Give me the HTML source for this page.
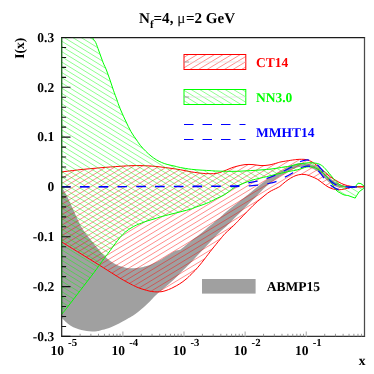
<!DOCTYPE html><html><head><meta charset="utf-8"><style>html,body{margin:0;padding:0;background:#fff}svg{display:block;will-change:transform;transform:translateZ(0)}</style></head><body><svg width="374" height="374" viewBox="0 0 374 374">
<defs>
<clipPath id="fr"><rect x="61.70" y="37.50" width="302.80" height="298.90"/></clipPath>
<clipPath id="cg"><path d="M50.00 -200.00 C52.00 -191.67 57.00 -180.00 62.00 -150.00 C67.00 -120.00 75.42 -49.17 80.00 -20.00 C84.58 9.17 87.42 15.43 89.50 25.00 C91.58 34.57 91.47 34.48 92.50 37.40 C93.53 40.32 94.63 40.23 95.70 42.50 C96.77 44.77 97.65 47.62 98.90 51.00 C100.15 54.38 101.95 59.63 103.20 62.80 C104.45 65.97 105.27 67.13 106.40 70.00 C107.53 72.87 108.83 76.63 110.00 80.00 C111.17 83.37 112.23 86.87 113.40 90.20 C114.57 93.53 116.12 97.53 117.00 100.00 C117.88 102.47 117.87 102.83 118.70 105.00 C119.53 107.17 120.83 110.33 122.00 113.00 C123.17 115.67 124.20 117.88 125.70 121.00 C127.20 124.12 129.18 128.53 131.00 131.70 C132.82 134.87 135.05 137.73 136.60 140.00 C138.15 142.27 138.78 143.43 140.30 145.30 C141.82 147.17 143.92 149.42 145.70 151.20 C147.48 152.98 149.22 154.57 151.00 156.00 C152.78 157.43 154.62 158.72 156.40 159.80 C158.18 160.88 159.92 161.73 161.70 162.50 C163.48 163.27 164.88 163.78 167.10 164.40 C169.32 165.02 172.73 165.67 175.00 166.20 C177.27 166.73 177.97 167.08 180.70 167.60 C183.43 168.12 187.83 168.87 191.40 169.30 C194.97 169.73 199.00 169.98 202.10 170.20 C205.20 170.42 207.73 170.47 210.00 170.60 C212.27 170.73 212.97 170.88 215.70 171.00 C218.43 171.12 222.83 171.25 226.40 171.30 C229.97 171.35 234.00 171.37 237.10 171.30 C240.20 171.23 241.90 171.07 245.00 170.90 C248.10 170.73 252.13 170.53 255.70 170.30 C259.27 170.07 262.83 169.85 266.40 169.50 C269.97 169.15 274.00 168.65 277.10 168.20 C280.20 167.75 282.85 167.13 285.00 166.80 C287.15 166.47 288.00 166.60 290.00 166.20 C292.00 165.80 294.83 164.87 297.00 164.40 C299.17 163.93 300.83 163.68 303.00 163.40 C305.17 163.12 307.60 162.68 310.00 162.70 C312.40 162.72 315.28 162.92 317.40 163.50 C319.52 164.08 320.93 164.80 322.70 166.20 C324.47 167.60 326.22 169.85 328.00 171.90 C329.78 173.95 332.07 176.88 333.40 178.50 C334.73 180.12 335.12 180.68 336.00 181.60 C336.88 182.52 337.78 183.32 338.70 184.00 C339.62 184.68 340.60 185.25 341.50 185.70 C342.40 186.15 342.68 186.48 344.10 186.70 C345.52 186.92 349.02 186.95 350.00 187.00 L355.20 186.80 L358.00 183.20 L360.90 183.60 L364.00 186.00 L364.50 186.80 L364.50 187.20 L363.70 188.40 L359.30 191.60 L356.80 195.30 L355.20 198.10 L348.00 195.50 C347.33 195.40 345.33 195.35 344.00 194.90 C342.67 194.45 341.33 193.62 340.00 192.80 C338.67 191.98 337.67 192.02 336.00 190.00 C334.33 187.98 332.10 183.47 330.00 180.70 C327.90 177.93 325.57 175.40 323.40 173.40 C321.23 171.40 319.23 169.82 317.00 168.70 C314.77 167.58 312.33 166.82 310.00 166.70 C307.67 166.58 305.17 167.45 303.00 168.00 C300.83 168.55 299.17 169.47 297.00 170.00 C294.83 170.53 292.00 170.80 290.00 171.20 C288.00 171.60 287.15 171.92 285.00 172.40 C282.85 172.88 280.20 173.38 277.10 174.10 C274.00 174.82 269.97 175.85 266.40 176.70 C262.83 177.55 258.43 178.50 255.70 179.20 C252.97 179.90 251.78 180.32 250.00 180.90 C248.22 181.48 246.50 182.13 245.00 182.70 C243.50 183.27 242.32 183.75 241.00 184.30 C239.68 184.85 238.18 185.48 237.10 186.00 C236.02 186.52 235.40 186.85 234.50 187.40 C233.60 187.95 232.70 188.57 231.70 189.30 C230.70 190.03 229.65 190.93 228.50 191.80 C227.35 192.67 226.05 193.72 224.80 194.50 C223.55 195.28 222.28 195.88 221.00 196.50 C219.72 197.12 218.43 197.55 217.10 198.20 C215.77 198.85 214.78 199.53 213.00 200.40 C211.22 201.27 209.28 202.27 206.40 203.40 C203.52 204.53 198.43 206.22 195.70 207.20 C192.97 208.18 192.27 208.60 190.00 209.30 C187.73 210.00 185.20 210.60 182.10 211.40 C179.00 212.20 174.97 213.20 171.40 214.10 C167.83 215.00 163.43 216.03 160.70 216.80 C157.97 217.57 157.27 218.00 155.00 218.70 C152.73 219.40 149.32 220.28 147.10 221.00 C144.88 221.72 143.48 222.32 141.70 223.00 C139.92 223.68 138.18 224.27 136.40 225.10 C134.62 225.93 132.78 226.88 131.00 228.00 C129.22 229.12 127.48 230.27 125.70 231.80 C123.92 233.33 122.08 235.18 120.30 237.20 C118.52 239.22 116.72 241.63 115.00 243.90 C113.28 246.17 112.03 248.07 110.00 250.80 C107.97 253.53 104.62 257.85 102.80 260.30 C100.98 262.75 100.55 263.48 99.10 265.50 C97.65 267.52 97.28 268.18 94.10 272.40 C90.92 276.62 84.17 285.37 80.00 290.80 C75.83 296.23 71.60 301.75 69.10 305.00 C66.60 308.25 66.25 308.73 65.00 310.30 C63.75 311.87 62.17 313.72 61.60 314.40 Z"/></clipPath>
<clipPath id="cr"><path d="M61.70 171.90 C64.75 171.53 73.62 170.38 80.00 169.70 C86.38 169.02 93.33 168.37 100.00 167.80 C106.67 167.23 114.83 166.65 120.00 166.30 C125.17 165.95 127.50 165.82 131.00 165.70 C134.50 165.58 137.67 165.55 141.00 165.60 C144.33 165.65 147.67 165.77 151.00 166.00 C154.33 166.23 157.83 166.63 161.00 167.00 C164.17 167.37 166.72 167.73 170.00 168.20 C173.28 168.67 177.13 169.18 180.70 169.80 C184.27 170.42 187.83 171.32 191.40 171.90 C194.97 172.48 199.33 173.02 202.10 173.30 C204.87 173.58 206.08 173.53 208.00 173.60 C209.92 173.67 211.93 173.80 213.60 173.70 C215.27 173.60 216.77 173.27 218.00 173.00 C219.23 172.73 219.60 172.60 221.00 172.10 C222.40 171.60 224.62 170.72 226.40 170.00 C228.18 169.28 229.92 168.43 231.70 167.80 C233.48 167.17 234.88 166.73 237.10 166.20 C239.32 165.67 242.35 164.87 245.00 164.60 C247.65 164.33 250.33 164.43 253.00 164.60 C255.67 164.77 258.33 165.53 261.00 165.60 C263.67 165.67 266.33 165.43 269.00 165.00 C271.67 164.57 275.00 163.52 277.00 163.00 C279.00 162.48 278.72 162.35 281.00 161.90 C283.28 161.45 288.03 160.70 290.70 160.30 C293.37 159.90 295.22 159.67 297.00 159.50 C298.78 159.33 299.78 159.27 301.40 159.30 C303.02 159.33 304.92 159.25 306.70 159.70 C308.48 160.15 310.33 160.98 312.10 162.00 C313.87 163.02 315.53 164.42 317.30 165.80 C319.07 167.18 320.92 168.77 322.70 170.30 C324.48 171.83 326.22 173.57 328.00 175.00 C329.78 176.43 331.62 177.73 333.40 178.90 C335.18 180.07 336.93 181.05 338.70 182.00 C340.47 182.95 342.00 183.88 344.00 184.60 C346.00 185.32 348.53 185.93 350.70 186.30 C352.87 186.67 354.70 186.72 357.00 186.80 C359.30 186.88 363.25 186.80 364.50 186.80 L364.50 186.80 C363.25 186.80 359.30 186.68 357.00 186.80 C354.70 186.92 352.87 187.12 350.70 187.50 C348.53 187.88 346.00 188.72 344.00 189.10 C342.00 189.48 340.47 189.80 338.70 189.80 C336.93 189.80 335.18 189.58 333.40 189.10 C331.62 188.62 329.78 187.88 328.00 186.90 C326.22 185.92 324.48 184.48 322.70 183.20 C320.92 181.92 319.07 180.27 317.30 179.20 C315.53 178.13 313.87 177.53 312.10 176.80 C310.33 176.07 308.48 175.20 306.70 174.80 C304.92 174.40 303.18 174.28 301.40 174.40 C299.62 174.52 297.78 174.88 296.00 175.50 C294.22 176.12 292.48 177.05 290.70 178.10 C288.92 179.15 287.08 180.43 285.30 181.80 C283.52 183.17 281.38 185.27 280.00 186.30 C278.62 187.33 278.67 187.13 277.00 188.00 C275.33 188.87 272.00 190.30 270.00 191.50 C268.00 192.70 266.67 193.90 265.00 195.20 C263.33 196.50 261.67 197.88 260.00 199.30 C258.33 200.72 256.50 202.32 255.00 203.70 C253.50 205.08 252.33 206.27 251.00 207.60 C249.67 208.93 248.33 210.33 247.00 211.70 C245.67 213.07 244.33 214.42 243.00 215.80 C241.67 217.18 240.10 218.83 239.00 220.00 C237.90 221.17 237.90 221.30 236.40 222.80 C234.90 224.30 231.90 227.20 230.00 229.00 C228.10 230.80 226.67 231.85 225.00 233.60 C223.33 235.35 222.15 236.90 220.00 239.50 C217.85 242.10 214.32 246.42 212.10 249.20 C209.88 251.98 208.08 254.40 206.70 256.20 C205.32 258.00 204.95 258.53 203.80 260.00 C202.65 261.47 201.27 263.25 199.80 265.00 C198.33 266.75 196.63 268.77 195.00 270.50 C193.37 272.23 191.27 274.15 190.00 275.40 C188.73 276.65 188.72 276.87 187.40 278.00 C186.08 279.13 183.88 280.93 182.10 282.20 C180.32 283.47 178.48 284.57 176.70 285.60 C174.92 286.63 173.18 287.58 171.40 288.40 C169.62 289.22 167.57 289.97 166.00 290.50 C164.43 291.03 163.48 291.37 162.00 291.60 C160.52 291.83 158.82 291.92 157.10 291.90 C155.38 291.88 153.48 291.77 151.70 291.50 C149.92 291.23 148.18 290.77 146.40 290.30 C144.62 289.83 142.78 289.32 141.00 288.70 C139.22 288.08 137.12 287.22 135.70 286.60 C134.28 285.98 134.53 286.07 132.50 285.00 C130.47 283.93 126.42 281.87 123.50 280.20 C120.58 278.53 119.07 277.53 115.00 275.00 C110.93 272.47 104.93 268.63 99.10 265.00 C93.27 261.37 86.23 257.03 80.00 253.20 C73.77 249.37 64.75 243.87 61.70 242.00 Z"/></clipPath>
<clipPath id="lg1"><rect x="184" y="54.5" width="61.8" height="15"/></clipPath>
<clipPath id="lg2"><rect x="184" y="89.5" width="61.8" height="15"/></clipPath>
</defs>
<rect width="374" height="374" fill="#fff"/>
<g clip-path="url(#fr)">
<path d="M61.70 186.70 C62.50 188.08 64.78 191.62 66.50 195.00 C68.22 198.38 70.25 203.17 72.00 207.00 C73.75 210.83 75.33 214.50 77.00 218.00 C78.67 221.50 80.30 225.12 82.00 228.00 C83.70 230.88 85.37 232.87 87.20 235.30 C89.03 237.73 91.52 240.72 93.00 242.60 C94.48 244.48 94.93 245.22 96.10 246.60 C97.27 247.98 98.47 249.20 100.00 250.90 C101.53 252.60 103.52 255.07 105.30 256.80 C107.08 258.53 108.92 260.02 110.70 261.30 C112.48 262.58 114.22 263.62 116.00 264.50 C117.78 265.38 119.62 266.03 121.40 266.60 C123.18 267.17 124.92 267.62 126.70 267.90 C128.48 268.18 129.83 268.37 132.10 268.30 C134.37 268.23 138.03 267.85 140.30 267.50 C142.57 267.15 143.92 266.72 145.70 266.20 C147.48 265.68 149.22 265.12 151.00 264.40 C152.78 263.68 154.62 262.77 156.40 261.90 C158.18 261.03 159.77 260.30 161.70 259.20 C163.63 258.10 165.78 256.67 168.00 255.30 C170.22 253.93 172.92 251.98 175.00 251.00 C177.08 250.02 178.50 250.53 180.50 249.40 C182.50 248.27 185.18 245.65 187.00 244.20 C188.82 242.75 189.98 241.82 191.40 240.70 C192.82 239.58 193.98 238.65 195.50 237.50 C197.02 236.35 198.92 235.05 200.50 233.80 C202.08 232.55 203.33 231.42 205.00 230.00 C206.67 228.58 208.83 226.73 210.50 225.30 C212.17 223.87 213.42 222.70 215.00 221.40 C216.58 220.10 218.22 219.02 220.00 217.50 C221.78 215.98 222.97 214.58 225.70 212.30 C228.43 210.02 233.18 206.35 236.40 203.80 C239.62 201.25 242.73 198.80 245.00 197.00 C247.27 195.20 248.17 194.50 250.00 193.00 C251.83 191.50 254.00 189.63 256.00 188.00 C258.00 186.37 260.33 184.50 262.00 183.20 C263.67 181.90 263.50 181.88 266.00 180.20 C268.50 178.52 273.83 174.92 277.00 173.10 C280.17 171.28 282.83 170.52 285.00 169.30 C287.17 168.08 288.00 166.78 290.00 165.80 C292.00 164.82 294.83 163.87 297.00 163.40 C299.17 162.93 300.83 162.90 303.00 163.00 C305.17 163.10 307.67 163.33 310.00 164.00 C312.33 164.67 314.77 165.67 317.00 167.00 C319.23 168.33 321.23 170.17 323.40 172.00 C325.57 173.83 327.73 176.17 330.00 178.00 C332.27 179.83 334.67 181.75 337.00 183.00 C339.33 184.25 341.50 184.87 344.00 185.50 C346.50 186.13 348.58 186.58 352.00 186.80 C355.42 187.02 362.42 186.80 364.50 186.80 L364.50 186.80 C362.42 186.82 355.42 186.78 352.00 186.90 C348.58 187.02 346.50 187.48 344.00 187.50 C341.50 187.52 339.33 187.75 337.00 187.00 C334.67 186.25 332.27 184.67 330.00 183.00 C327.73 181.33 325.57 179.00 323.40 177.00 C321.23 175.00 319.23 172.58 317.00 171.00 C314.77 169.42 312.33 168.25 310.00 167.50 C307.67 166.75 305.17 166.52 303.00 166.50 C300.83 166.48 299.17 166.77 297.00 167.40 C294.83 168.03 292.00 169.27 290.00 170.30 C288.00 171.33 287.17 172.28 285.00 173.60 C282.83 174.92 280.10 176.10 277.00 178.20 C273.90 180.30 268.98 184.07 266.40 186.20 C263.82 188.33 263.32 189.17 261.50 191.00 C259.68 192.83 257.25 195.43 255.50 197.20 C253.75 198.97 252.42 200.17 251.00 201.60 C249.58 203.03 248.50 204.28 247.00 205.80 C245.50 207.32 243.77 208.95 242.00 210.70 C240.23 212.45 238.40 214.30 236.40 216.30 C234.40 218.30 231.90 220.82 230.00 222.70 C228.10 224.58 226.67 226.05 225.00 227.60 C223.33 229.15 222.15 229.93 220.00 232.00 C217.85 234.07 214.43 237.58 212.10 240.00 C209.77 242.42 207.78 244.63 206.00 246.50 C204.22 248.37 203.07 249.45 201.40 251.20 C199.73 252.95 197.98 254.87 196.00 257.00 C194.02 259.13 191.82 261.63 189.50 264.00 C187.18 266.37 184.27 269.03 182.10 271.20 C179.93 273.37 178.28 275.23 176.50 277.00 C174.72 278.77 173.15 280.22 171.40 281.80 C169.65 283.38 167.67 285.10 166.00 286.50 C164.33 287.90 162.88 288.93 161.40 290.20 C159.92 291.47 158.72 292.55 157.10 294.10 C155.48 295.65 153.48 297.72 151.70 299.50 C149.92 301.28 148.18 303.12 146.40 304.80 C144.62 306.48 142.78 308.10 141.00 309.60 C139.22 311.10 137.48 312.52 135.70 313.80 C133.92 315.08 131.73 316.45 130.30 317.30 C128.87 318.15 128.53 318.13 127.10 318.90 C125.67 319.67 123.48 320.92 121.70 321.90 C119.92 322.88 118.18 323.90 116.40 324.80 C114.62 325.70 112.78 326.58 111.00 327.30 C109.22 328.02 107.48 328.57 105.70 329.10 C103.92 329.63 101.75 330.15 100.30 330.50 C98.85 330.85 98.37 331.03 97.00 331.20 C95.63 331.37 93.82 331.53 92.10 331.50 C90.38 331.47 88.48 331.25 86.70 331.00 C84.92 330.75 83.18 330.45 81.40 330.00 C79.62 329.55 77.78 329.02 76.00 328.30 C74.22 327.58 72.48 326.85 70.70 325.70 C68.92 324.55 66.82 322.75 65.30 321.40 C63.78 320.05 62.22 318.23 61.60 317.60 Z" fill="#a0a0a0"/>
<g clip-path="url(#cr)"><path d="M40.00 24.48 L380.00 -181.22 M40.00 29.70 L380.00 -176.00 M40.00 34.92 L380.00 -170.78 M40.00 40.13 L380.00 -165.57 M40.00 45.35 L380.00 -160.35 M40.00 50.57 L380.00 -155.13 M40.00 55.78 L380.00 -149.92 M40.00 61.00 L380.00 -144.70 M40.00 66.22 L380.00 -139.48 M40.00 71.44 L380.00 -134.26 M40.00 76.65 L380.00 -129.05 M40.00 81.87 L380.00 -123.83 M40.00 87.09 L380.00 -118.61 M40.00 92.30 L380.00 -113.40 M40.00 97.52 L380.00 -108.18 M40.00 102.74 L380.00 -102.96 M40.00 107.95 L380.00 -97.75 M40.00 113.17 L380.00 -92.53 M40.00 118.39 L380.00 -87.31 M40.00 123.60 L380.00 -82.09 M40.00 128.82 L380.00 -76.88 M40.00 134.04 L380.00 -71.66 M40.00 139.26 L380.00 -66.44 M40.00 144.47 L380.00 -61.23 M40.00 149.69 L380.00 -56.01 M40.00 154.91 L380.00 -50.79 M40.00 160.12 L380.00 -45.58 M40.00 165.34 L380.00 -40.36 M40.00 170.56 L380.00 -35.14 M40.00 175.78 L380.00 -29.92 M40.00 180.99 L380.00 -24.71 M40.00 186.21 L380.00 -19.49 M40.00 191.43 L380.00 -14.27 M40.00 196.64 L380.00 -9.06 M40.00 201.86 L380.00 -3.84 M40.00 207.08 L380.00 1.38 M40.00 212.29 L380.00 6.59 M40.00 217.51 L380.00 11.81 M40.00 222.73 L380.00 17.03 M40.00 227.94 L380.00 22.25 M40.00 233.16 L380.00 27.46 M40.00 238.38 L380.00 32.68 M40.00 243.60 L380.00 37.90 M40.00 248.81 L380.00 43.11 M40.00 254.03 L380.00 48.33 M40.00 259.25 L380.00 53.55 M40.00 264.46 L380.00 58.76 M40.00 269.68 L380.00 63.98 M40.00 274.90 L380.00 69.20 M40.00 280.12 L380.00 74.42 M40.00 285.33 L380.00 79.63 M40.00 290.55 L380.00 84.85 M40.00 295.77 L380.00 90.07 M40.00 300.98 L380.00 95.28 M40.00 306.20 L380.00 100.50 M40.00 311.42 L380.00 105.72 M40.00 316.63 L380.00 110.93 M40.00 321.85 L380.00 116.15 M40.00 327.07 L380.00 121.37 M40.00 332.28 L380.00 126.58 M40.00 337.50 L380.00 131.80 M40.00 342.72 L380.00 137.02 M40.00 347.94 L380.00 142.24 M40.00 353.15 L380.00 147.45 M40.00 358.37 L380.00 152.67 M40.00 363.59 L380.00 157.89 M40.00 368.80 L380.00 163.10 M40.00 374.02 L380.00 168.32 M40.00 379.24 L380.00 173.54 M40.00 384.45 L380.00 178.75 M40.00 389.67 L380.00 183.97 M40.00 394.89 L380.00 189.19 M40.00 400.11 L380.00 194.41 M40.00 405.32 L380.00 199.62 M40.00 410.54 L380.00 204.84 M40.00 415.76 L380.00 210.06 M40.00 420.97 L380.00 215.27 M40.00 426.19 L380.00 220.49 M40.00 431.41 L380.00 225.71 M40.00 436.62 L380.00 230.92 M40.00 441.84 L380.00 236.14 M40.00 447.06 L380.00 241.36 M40.00 452.28 L380.00 246.58 M40.00 457.49 L380.00 251.79 M40.00 462.71 L380.00 257.01 M40.00 467.93 L380.00 262.23 M40.00 473.14 L380.00 267.44 M40.00 478.36 L380.00 272.66 M40.00 483.58 L380.00 277.88 M40.00 488.80 L380.00 283.10 M40.00 494.01 L380.00 288.31 M40.00 499.23 L380.00 293.53 M40.00 504.45 L380.00 298.75 M40.00 509.66 L380.00 303.96 M40.00 514.88 L380.00 309.18 M40.00 520.10 L380.00 314.40 M40.00 525.31 L380.00 319.61 M40.00 530.53 L380.00 324.83 M40.00 535.75 L380.00 330.05 M40.00 540.96 L380.00 335.26 M40.00 546.18 L380.00 340.48 M40.00 551.40 L380.00 345.70" stroke="#ff0000" stroke-width="0.45" fill="none"/></g>
<path d="M61.70 171.90 C64.75 171.53 73.62 170.38 80.00 169.70 C86.38 169.02 93.33 168.37 100.00 167.80 C106.67 167.23 114.83 166.65 120.00 166.30 C125.17 165.95 127.50 165.82 131.00 165.70 C134.50 165.58 137.67 165.55 141.00 165.60 C144.33 165.65 147.67 165.77 151.00 166.00 C154.33 166.23 157.83 166.63 161.00 167.00 C164.17 167.37 166.72 167.73 170.00 168.20 C173.28 168.67 177.13 169.18 180.70 169.80 C184.27 170.42 187.83 171.32 191.40 171.90 C194.97 172.48 199.33 173.02 202.10 173.30 C204.87 173.58 206.08 173.53 208.00 173.60 C209.92 173.67 211.93 173.80 213.60 173.70 C215.27 173.60 216.77 173.27 218.00 173.00 C219.23 172.73 219.60 172.60 221.00 172.10 C222.40 171.60 224.62 170.72 226.40 170.00 C228.18 169.28 229.92 168.43 231.70 167.80 C233.48 167.17 234.88 166.73 237.10 166.20 C239.32 165.67 242.35 164.87 245.00 164.60 C247.65 164.33 250.33 164.43 253.00 164.60 C255.67 164.77 258.33 165.53 261.00 165.60 C263.67 165.67 266.33 165.43 269.00 165.00 C271.67 164.57 275.00 163.52 277.00 163.00 C279.00 162.48 278.72 162.35 281.00 161.90 C283.28 161.45 288.03 160.70 290.70 160.30 C293.37 159.90 295.22 159.67 297.00 159.50 C298.78 159.33 299.78 159.27 301.40 159.30 C303.02 159.33 304.92 159.25 306.70 159.70 C308.48 160.15 310.33 160.98 312.10 162.00 C313.87 163.02 315.53 164.42 317.30 165.80 C319.07 167.18 320.92 168.77 322.70 170.30 C324.48 171.83 326.22 173.57 328.00 175.00 C329.78 176.43 331.62 177.73 333.40 178.90 C335.18 180.07 336.93 181.05 338.70 182.00 C340.47 182.95 342.00 183.88 344.00 184.60 C346.00 185.32 348.53 185.93 350.70 186.30 C352.87 186.67 354.70 186.72 357.00 186.80 C359.30 186.88 363.25 186.80 364.50 186.80" fill="none" stroke="#ff0000" stroke-width="1"/>
<path d="M61.70 242.00 C64.75 243.87 73.77 249.37 80.00 253.20 C86.23 257.03 93.27 261.37 99.10 265.00 C104.93 268.63 110.93 272.47 115.00 275.00 C119.07 277.53 120.58 278.53 123.50 280.20 C126.42 281.87 130.47 283.93 132.50 285.00 C134.53 286.07 134.28 285.98 135.70 286.60 C137.12 287.22 139.22 288.08 141.00 288.70 C142.78 289.32 144.62 289.83 146.40 290.30 C148.18 290.77 149.92 291.23 151.70 291.50 C153.48 291.77 155.38 291.88 157.10 291.90 C158.82 291.92 160.52 291.83 162.00 291.60 C163.48 291.37 164.43 291.03 166.00 290.50 C167.57 289.97 169.62 289.22 171.40 288.40 C173.18 287.58 174.92 286.63 176.70 285.60 C178.48 284.57 180.32 283.47 182.10 282.20 C183.88 280.93 186.08 279.13 187.40 278.00 C188.72 276.87 188.73 276.65 190.00 275.40 C191.27 274.15 193.37 272.23 195.00 270.50 C196.63 268.77 198.33 266.75 199.80 265.00 C201.27 263.25 202.65 261.47 203.80 260.00 C204.95 258.53 205.32 258.00 206.70 256.20 C208.08 254.40 209.88 251.98 212.10 249.20 C214.32 246.42 217.85 242.10 220.00 239.50 C222.15 236.90 223.33 235.35 225.00 233.60 C226.67 231.85 228.10 230.80 230.00 229.00 C231.90 227.20 234.90 224.30 236.40 222.80 C237.90 221.30 237.90 221.17 239.00 220.00 C240.10 218.83 241.67 217.18 243.00 215.80 C244.33 214.42 245.67 213.07 247.00 211.70 C248.33 210.33 249.67 208.93 251.00 207.60 C252.33 206.27 253.50 205.08 255.00 203.70 C256.50 202.32 258.33 200.72 260.00 199.30 C261.67 197.88 263.33 196.50 265.00 195.20 C266.67 193.90 268.00 192.70 270.00 191.50 C272.00 190.30 275.33 188.87 277.00 188.00 C278.67 187.13 278.62 187.33 280.00 186.30 C281.38 185.27 283.52 183.17 285.30 181.80 C287.08 180.43 288.92 179.15 290.70 178.10 C292.48 177.05 294.22 176.12 296.00 175.50 C297.78 174.88 299.62 174.52 301.40 174.40 C303.18 174.28 304.92 174.40 306.70 174.80 C308.48 175.20 310.33 176.07 312.10 176.80 C313.87 177.53 315.53 178.13 317.30 179.20 C319.07 180.27 320.92 181.92 322.70 183.20 C324.48 184.48 326.22 185.92 328.00 186.90 C329.78 187.88 331.62 188.62 333.40 189.10 C335.18 189.58 336.93 189.80 338.70 189.80 C340.47 189.80 342.00 189.48 344.00 189.10 C346.00 188.72 348.53 187.88 350.70 187.50 C352.87 187.12 354.70 186.92 357.00 186.80 C359.30 186.68 363.25 186.80 364.50 186.80" fill="none" stroke="#ff0000" stroke-width="1"/>
<g clip-path="url(#cg)"><path d="M40.00 -186.05 L380.00 23.05 M40.00 -180.83 L380.00 28.27 M40.00 -175.61 L380.00 33.49 M40.00 -170.40 L380.00 38.70 M40.00 -165.18 L380.00 43.92 M40.00 -159.96 L380.00 49.14 M40.00 -154.75 L380.00 54.35 M40.00 -149.53 L380.00 59.57 M40.00 -144.31 L380.00 64.79 M40.00 -139.09 L380.00 70.01 M40.00 -133.88 L380.00 75.22 M40.00 -128.66 L380.00 80.44 M40.00 -123.44 L380.00 85.66 M40.00 -118.23 L380.00 90.87 M40.00 -113.01 L380.00 96.09 M40.00 -107.79 L380.00 101.31 M40.00 -102.58 L380.00 106.52 M40.00 -97.36 L380.00 111.74 M40.00 -92.14 L380.00 116.96 M40.00 -86.92 L380.00 122.17 M40.00 -81.71 L380.00 127.39 M40.00 -76.49 L380.00 132.61 M40.00 -71.27 L380.00 137.83 M40.00 -66.06 L380.00 143.04 M40.00 -60.84 L380.00 148.26 M40.00 -55.62 L380.00 153.48 M40.00 -50.41 L380.00 158.69 M40.00 -45.19 L380.00 163.91 M40.00 -39.97 L380.00 169.13 M40.00 -34.75 L380.00 174.35 M40.00 -29.54 L380.00 179.56 M40.00 -24.32 L380.00 184.78 M40.00 -19.10 L380.00 190.00 M40.00 -13.89 L380.00 195.21 M40.00 -8.67 L380.00 200.43 M40.00 -3.45 L380.00 205.65 M40.00 1.76 L380.00 210.86 M40.00 6.98 L380.00 216.08 M40.00 12.20 L380.00 221.30 M40.00 17.42 L380.00 226.51 M40.00 22.63 L380.00 231.73 M40.00 27.85 L380.00 236.95 M40.00 33.07 L380.00 242.17 M40.00 38.28 L380.00 247.38 M40.00 43.50 L380.00 252.60 M40.00 48.72 L380.00 257.82 M40.00 53.93 L380.00 263.03 M40.00 59.15 L380.00 268.25 M40.00 64.37 L380.00 273.47 M40.00 69.59 L380.00 278.69 M40.00 74.80 L380.00 283.90 M40.00 80.02 L380.00 289.12 M40.00 85.24 L380.00 294.34 M40.00 90.45 L380.00 299.55 M40.00 95.67 L380.00 304.77 M40.00 100.89 L380.00 309.99 M40.00 106.10 L380.00 315.20 M40.00 111.32 L380.00 320.42 M40.00 116.54 L380.00 325.64 M40.00 121.75 L380.00 330.86 M40.00 126.97 L380.00 336.07 M40.00 132.19 L380.00 341.29 M40.00 137.41 L380.00 346.51 M40.00 142.62 L380.00 351.72 M40.00 147.84 L380.00 356.94 M40.00 153.06 L380.00 362.16 M40.00 158.27 L380.00 367.37 M40.00 163.49 L380.00 372.59 M40.00 168.71 L380.00 377.81 M40.00 173.92 L380.00 383.02 M40.00 179.14 L380.00 388.24 M40.00 184.36 L380.00 393.46 M40.00 189.58 L380.00 398.68 M40.00 194.79 L380.00 403.89 M40.00 200.01 L380.00 409.11 M40.00 205.23 L380.00 414.33 M40.00 210.44 L380.00 419.54 M40.00 215.66 L380.00 424.76 M40.00 220.88 L380.00 429.98 M40.00 226.09 L380.00 435.19 M40.00 231.31 L380.00 440.41 M40.00 236.53 L380.00 445.63 M40.00 241.75 L380.00 450.85 M40.00 246.96 L380.00 456.06 M40.00 252.18 L380.00 461.28 M40.00 257.40 L380.00 466.50 M40.00 262.61 L380.00 471.71 M40.00 267.83 L380.00 476.93 M40.00 273.05 L380.00 482.15 M40.00 278.27 L380.00 487.37 M40.00 283.48 L380.00 492.58 M40.00 288.70 L380.00 497.80 M40.00 293.92 L380.00 503.02 M40.00 299.13 L380.00 508.23 M40.00 304.35 L380.00 513.45 M40.00 309.57 L380.00 518.67 M40.00 314.78 L380.00 523.88 M40.00 320.00 L380.00 529.10 M40.00 325.22 L380.00 534.32 M40.00 330.44 L380.00 539.53 M40.00 335.65 L380.00 544.75 M40.00 340.87 L380.00 549.97 M40.00 346.09 L380.00 555.19" stroke="#00ff00" stroke-width="0.45" fill="none"/></g>
<path d="M50.00 -200.00 C52.00 -191.67 57.00 -180.00 62.00 -150.00 C67.00 -120.00 75.42 -49.17 80.00 -20.00 C84.58 9.17 87.42 15.43 89.50 25.00 C91.58 34.57 91.47 34.48 92.50 37.40 C93.53 40.32 94.63 40.23 95.70 42.50 C96.77 44.77 97.65 47.62 98.90 51.00 C100.15 54.38 101.95 59.63 103.20 62.80 C104.45 65.97 105.27 67.13 106.40 70.00 C107.53 72.87 108.83 76.63 110.00 80.00 C111.17 83.37 112.23 86.87 113.40 90.20 C114.57 93.53 116.12 97.53 117.00 100.00 C117.88 102.47 117.87 102.83 118.70 105.00 C119.53 107.17 120.83 110.33 122.00 113.00 C123.17 115.67 124.20 117.88 125.70 121.00 C127.20 124.12 129.18 128.53 131.00 131.70 C132.82 134.87 135.05 137.73 136.60 140.00 C138.15 142.27 138.78 143.43 140.30 145.30 C141.82 147.17 143.92 149.42 145.70 151.20 C147.48 152.98 149.22 154.57 151.00 156.00 C152.78 157.43 154.62 158.72 156.40 159.80 C158.18 160.88 159.92 161.73 161.70 162.50 C163.48 163.27 164.88 163.78 167.10 164.40 C169.32 165.02 172.73 165.67 175.00 166.20 C177.27 166.73 177.97 167.08 180.70 167.60 C183.43 168.12 187.83 168.87 191.40 169.30 C194.97 169.73 199.00 169.98 202.10 170.20 C205.20 170.42 207.73 170.47 210.00 170.60 C212.27 170.73 212.97 170.88 215.70 171.00 C218.43 171.12 222.83 171.25 226.40 171.30 C229.97 171.35 234.00 171.37 237.10 171.30 C240.20 171.23 241.90 171.07 245.00 170.90 C248.10 170.73 252.13 170.53 255.70 170.30 C259.27 170.07 262.83 169.85 266.40 169.50 C269.97 169.15 274.00 168.65 277.10 168.20 C280.20 167.75 282.85 167.13 285.00 166.80 C287.15 166.47 288.00 166.60 290.00 166.20 C292.00 165.80 294.83 164.87 297.00 164.40 C299.17 163.93 300.83 163.68 303.00 163.40 C305.17 163.12 307.60 162.68 310.00 162.70 C312.40 162.72 315.28 162.92 317.40 163.50 C319.52 164.08 320.93 164.80 322.70 166.20 C324.47 167.60 326.22 169.85 328.00 171.90 C329.78 173.95 332.07 176.88 333.40 178.50 C334.73 180.12 335.12 180.68 336.00 181.60 C336.88 182.52 337.78 183.32 338.70 184.00 C339.62 184.68 340.60 185.25 341.50 185.70 C342.40 186.15 342.68 186.48 344.10 186.70 C345.52 186.92 349.02 186.95 350.00 187.00 L355.20 186.80 L358.00 183.20 L360.90 183.60 L364.00 186.00 L364.50 186.80" fill="none" stroke="#00ff00" stroke-width="1.0" stroke-linejoin="round"/>
<path d="M61.60 314.40 C62.17 313.72 63.75 311.87 65.00 310.30 C66.25 308.73 66.60 308.25 69.10 305.00 C71.60 301.75 75.83 296.23 80.00 290.80 C84.17 285.37 90.92 276.62 94.10 272.40 C97.28 268.18 97.65 267.52 99.10 265.50 C100.55 263.48 100.98 262.75 102.80 260.30 C104.62 257.85 107.97 253.53 110.00 250.80 C112.03 248.07 113.28 246.17 115.00 243.90 C116.72 241.63 118.52 239.22 120.30 237.20 C122.08 235.18 123.92 233.33 125.70 231.80 C127.48 230.27 129.22 229.12 131.00 228.00 C132.78 226.88 134.62 225.93 136.40 225.10 C138.18 224.27 139.92 223.68 141.70 223.00 C143.48 222.32 144.88 221.72 147.10 221.00 C149.32 220.28 152.73 219.40 155.00 218.70 C157.27 218.00 157.97 217.57 160.70 216.80 C163.43 216.03 167.83 215.00 171.40 214.10 C174.97 213.20 179.00 212.20 182.10 211.40 C185.20 210.60 187.73 210.00 190.00 209.30 C192.27 208.60 192.97 208.18 195.70 207.20 C198.43 206.22 203.52 204.53 206.40 203.40 C209.28 202.27 211.22 201.27 213.00 200.40 C214.78 199.53 215.77 198.85 217.10 198.20 C218.43 197.55 219.72 197.12 221.00 196.50 C222.28 195.88 223.55 195.28 224.80 194.50 C226.05 193.72 227.35 192.67 228.50 191.80 C229.65 190.93 230.70 190.03 231.70 189.30 C232.70 188.57 233.60 187.95 234.50 187.40 C235.40 186.85 236.02 186.52 237.10 186.00 C238.18 185.48 239.68 184.85 241.00 184.30 C242.32 183.75 243.50 183.27 245.00 182.70 C246.50 182.13 248.22 181.48 250.00 180.90 C251.78 180.32 252.97 179.90 255.70 179.20 C258.43 178.50 262.83 177.55 266.40 176.70 C269.97 175.85 274.00 174.82 277.10 174.10 C280.20 173.38 282.85 172.88 285.00 172.40 C287.15 171.92 288.00 171.60 290.00 171.20 C292.00 170.80 294.83 170.53 297.00 170.00 C299.17 169.47 300.83 168.55 303.00 168.00 C305.17 167.45 307.67 166.58 310.00 166.70 C312.33 166.82 314.77 167.58 317.00 168.70 C319.23 169.82 321.23 171.40 323.40 173.40 C325.57 175.40 327.90 177.93 330.00 180.70 C332.10 183.47 334.33 187.98 336.00 190.00 C337.67 192.02 338.67 191.98 340.00 192.80 C341.33 193.62 342.67 194.45 344.00 194.90 C345.33 195.35 347.33 195.40 348.00 195.50 L355.20 198.10 L356.80 195.30 L359.30 191.60 L363.70 188.40 L364.50 187.20" fill="none" stroke="#00ff00" stroke-width="1.0" stroke-linejoin="round"/>
<path d="M61.30 186.70 C76.08 186.65 123.55 186.52 150.00 186.40 C176.45 186.28 205.00 186.15 220.00 186.00 C235.00 185.85 235.22 186.03 240.00 185.50 C244.78 184.97 245.73 183.55 248.70 182.80 C251.67 182.05 254.77 181.73 257.80 181.00 C260.83 180.27 263.95 179.37 266.90 178.40 C269.85 177.43 272.57 176.48 275.50 175.20 C278.43 173.92 281.75 172.10 284.50 170.70 C287.25 169.30 289.33 168.33 292.00 166.80 C294.67 165.27 297.67 162.62 300.50 161.50 C303.33 160.38 306.20 159.55 309.00 160.10 C311.80 160.65 314.93 162.90 317.30 164.80 C319.67 166.70 321.15 168.97 323.20 171.50 C325.25 174.03 327.63 177.87 329.60 180.00 C331.57 182.13 333.27 183.30 335.00 184.30 C336.73 185.30 338.17 185.58 340.00 186.00 C341.83 186.42 341.92 186.67 346.00 186.80 C350.08 186.93 361.42 186.80 364.50 186.80" fill="none" stroke="#0000ff" stroke-width="1.2" stroke-dasharray="9.4 9.35"/>
<path d="M61.30 187.00 C76.08 186.95 123.55 186.78 150.00 186.70 C176.45 186.62 205.00 186.53 220.00 186.50 C235.00 186.47 235.22 186.60 240.00 186.50 C244.78 186.40 245.73 186.13 248.70 185.90 C251.67 185.67 254.67 185.47 257.80 185.10 C260.93 184.73 264.47 184.28 267.50 183.70 C270.53 183.12 273.02 182.73 276.00 181.60 C278.98 180.47 282.65 178.35 285.40 176.90 C288.15 175.45 289.90 174.47 292.50 172.90 C295.10 171.33 298.17 168.62 301.00 167.50 C303.83 166.38 306.67 165.70 309.50 166.20 C312.33 166.70 315.67 168.65 318.00 170.50 C320.33 172.35 321.38 174.83 323.50 177.30 C325.62 179.77 328.33 183.28 330.70 185.30 C333.07 187.32 335.65 188.75 337.70 189.40 C339.75 190.05 340.95 189.52 343.00 189.20 C345.05 188.88 347.67 187.90 350.00 187.50 C352.33 187.10 354.58 186.92 357.00 186.80 C359.42 186.68 363.25 186.80 364.50 186.80" fill="none" stroke="#0000ff" stroke-width="1.2" stroke-dasharray="9.4 9.35"/>
</g>
<g clip-path="url(#lg1)"><path d="M40.00 24.48 L380.00 -181.22 M40.00 29.70 L380.00 -176.00 M40.00 34.92 L380.00 -170.78 M40.00 40.13 L380.00 -165.57 M40.00 45.35 L380.00 -160.35 M40.00 50.57 L380.00 -155.13 M40.00 55.78 L380.00 -149.92 M40.00 61.00 L380.00 -144.70 M40.00 66.22 L380.00 -139.48 M40.00 71.44 L380.00 -134.26 M40.00 76.65 L380.00 -129.05 M40.00 81.87 L380.00 -123.83 M40.00 87.09 L380.00 -118.61 M40.00 92.30 L380.00 -113.40 M40.00 97.52 L380.00 -108.18 M40.00 102.74 L380.00 -102.96 M40.00 107.95 L380.00 -97.75 M40.00 113.17 L380.00 -92.53 M40.00 118.39 L380.00 -87.31 M40.00 123.60 L380.00 -82.09 M40.00 128.82 L380.00 -76.88 M40.00 134.04 L380.00 -71.66 M40.00 139.26 L380.00 -66.44 M40.00 144.47 L380.00 -61.23 M40.00 149.69 L380.00 -56.01 M40.00 154.91 L380.00 -50.79 M40.00 160.12 L380.00 -45.58 M40.00 165.34 L380.00 -40.36 M40.00 170.56 L380.00 -35.14 M40.00 175.78 L380.00 -29.92 M40.00 180.99 L380.00 -24.71 M40.00 186.21 L380.00 -19.49 M40.00 191.43 L380.00 -14.27 M40.00 196.64 L380.00 -9.06 M40.00 201.86 L380.00 -3.84 M40.00 207.08 L380.00 1.38 M40.00 212.29 L380.00 6.59 M40.00 217.51 L380.00 11.81 M40.00 222.73 L380.00 17.03 M40.00 227.94 L380.00 22.25 M40.00 233.16 L380.00 27.46 M40.00 238.38 L380.00 32.68 M40.00 243.60 L380.00 37.90 M40.00 248.81 L380.00 43.11 M40.00 254.03 L380.00 48.33 M40.00 259.25 L380.00 53.55 M40.00 264.46 L380.00 58.76 M40.00 269.68 L380.00 63.98 M40.00 274.90 L380.00 69.20 M40.00 280.12 L380.00 74.42 M40.00 285.33 L380.00 79.63 M40.00 290.55 L380.00 84.85 M40.00 295.77 L380.00 90.07 M40.00 300.98 L380.00 95.28 M40.00 306.20 L380.00 100.50 M40.00 311.42 L380.00 105.72 M40.00 316.63 L380.00 110.93 M40.00 321.85 L380.00 116.15 M40.00 327.07 L380.00 121.37 M40.00 332.28 L380.00 126.58 M40.00 337.50 L380.00 131.80 M40.00 342.72 L380.00 137.02 M40.00 347.94 L380.00 142.24 M40.00 353.15 L380.00 147.45 M40.00 358.37 L380.00 152.67 M40.00 363.59 L380.00 157.89 M40.00 368.80 L380.00 163.10 M40.00 374.02 L380.00 168.32 M40.00 379.24 L380.00 173.54 M40.00 384.45 L380.00 178.75 M40.00 389.67 L380.00 183.97 M40.00 394.89 L380.00 189.19 M40.00 400.11 L380.00 194.41 M40.00 405.32 L380.00 199.62 M40.00 410.54 L380.00 204.84 M40.00 415.76 L380.00 210.06 M40.00 420.97 L380.00 215.27 M40.00 426.19 L380.00 220.49 M40.00 431.41 L380.00 225.71 M40.00 436.62 L380.00 230.92 M40.00 441.84 L380.00 236.14 M40.00 447.06 L380.00 241.36 M40.00 452.28 L380.00 246.58 M40.00 457.49 L380.00 251.79 M40.00 462.71 L380.00 257.01 M40.00 467.93 L380.00 262.23 M40.00 473.14 L380.00 267.44 M40.00 478.36 L380.00 272.66 M40.00 483.58 L380.00 277.88 M40.00 488.80 L380.00 283.10 M40.00 494.01 L380.00 288.31 M40.00 499.23 L380.00 293.53 M40.00 504.45 L380.00 298.75 M40.00 509.66 L380.00 303.96 M40.00 514.88 L380.00 309.18 M40.00 520.10 L380.00 314.40 M40.00 525.31 L380.00 319.61 M40.00 530.53 L380.00 324.83 M40.00 535.75 L380.00 330.05 M40.00 540.96 L380.00 335.26 M40.00 546.18 L380.00 340.48 M40.00 551.40 L380.00 345.70" stroke="#ff0000" stroke-width="0.45" fill="none"/></g>
<rect x="184" y="54.5" width="61.8" height="15" fill="none" stroke="#ff0000" stroke-width="1"/>
<line x1="184" y1="62" x2="245.8" y2="62" stroke="#ddd" stroke-width="0.6"/><line x1="184" y1="62" x2="189" y2="62" stroke="#888" stroke-width="0.7"/>
<g clip-path="url(#lg2)"><path d="M40.00 -186.05 L380.00 23.05 M40.00 -180.83 L380.00 28.27 M40.00 -175.61 L380.00 33.49 M40.00 -170.40 L380.00 38.70 M40.00 -165.18 L380.00 43.92 M40.00 -159.96 L380.00 49.14 M40.00 -154.75 L380.00 54.35 M40.00 -149.53 L380.00 59.57 M40.00 -144.31 L380.00 64.79 M40.00 -139.09 L380.00 70.01 M40.00 -133.88 L380.00 75.22 M40.00 -128.66 L380.00 80.44 M40.00 -123.44 L380.00 85.66 M40.00 -118.23 L380.00 90.87 M40.00 -113.01 L380.00 96.09 M40.00 -107.79 L380.00 101.31 M40.00 -102.58 L380.00 106.52 M40.00 -97.36 L380.00 111.74 M40.00 -92.14 L380.00 116.96 M40.00 -86.92 L380.00 122.17 M40.00 -81.71 L380.00 127.39 M40.00 -76.49 L380.00 132.61 M40.00 -71.27 L380.00 137.83 M40.00 -66.06 L380.00 143.04 M40.00 -60.84 L380.00 148.26 M40.00 -55.62 L380.00 153.48 M40.00 -50.41 L380.00 158.69 M40.00 -45.19 L380.00 163.91 M40.00 -39.97 L380.00 169.13 M40.00 -34.75 L380.00 174.35 M40.00 -29.54 L380.00 179.56 M40.00 -24.32 L380.00 184.78 M40.00 -19.10 L380.00 190.00 M40.00 -13.89 L380.00 195.21 M40.00 -8.67 L380.00 200.43 M40.00 -3.45 L380.00 205.65 M40.00 1.76 L380.00 210.86 M40.00 6.98 L380.00 216.08 M40.00 12.20 L380.00 221.30 M40.00 17.42 L380.00 226.51 M40.00 22.63 L380.00 231.73 M40.00 27.85 L380.00 236.95 M40.00 33.07 L380.00 242.17 M40.00 38.28 L380.00 247.38 M40.00 43.50 L380.00 252.60 M40.00 48.72 L380.00 257.82 M40.00 53.93 L380.00 263.03 M40.00 59.15 L380.00 268.25 M40.00 64.37 L380.00 273.47 M40.00 69.59 L380.00 278.69 M40.00 74.80 L380.00 283.90 M40.00 80.02 L380.00 289.12 M40.00 85.24 L380.00 294.34 M40.00 90.45 L380.00 299.55 M40.00 95.67 L380.00 304.77 M40.00 100.89 L380.00 309.99 M40.00 106.10 L380.00 315.20 M40.00 111.32 L380.00 320.42 M40.00 116.54 L380.00 325.64 M40.00 121.75 L380.00 330.86 M40.00 126.97 L380.00 336.07 M40.00 132.19 L380.00 341.29 M40.00 137.41 L380.00 346.51 M40.00 142.62 L380.00 351.72 M40.00 147.84 L380.00 356.94 M40.00 153.06 L380.00 362.16 M40.00 158.27 L380.00 367.37 M40.00 163.49 L380.00 372.59 M40.00 168.71 L380.00 377.81 M40.00 173.92 L380.00 383.02 M40.00 179.14 L380.00 388.24 M40.00 184.36 L380.00 393.46 M40.00 189.58 L380.00 398.68 M40.00 194.79 L380.00 403.89 M40.00 200.01 L380.00 409.11 M40.00 205.23 L380.00 414.33 M40.00 210.44 L380.00 419.54 M40.00 215.66 L380.00 424.76 M40.00 220.88 L380.00 429.98 M40.00 226.09 L380.00 435.19 M40.00 231.31 L380.00 440.41 M40.00 236.53 L380.00 445.63 M40.00 241.75 L380.00 450.85 M40.00 246.96 L380.00 456.06 M40.00 252.18 L380.00 461.28 M40.00 257.40 L380.00 466.50 M40.00 262.61 L380.00 471.71 M40.00 267.83 L380.00 476.93 M40.00 273.05 L380.00 482.15 M40.00 278.27 L380.00 487.37 M40.00 283.48 L380.00 492.58 M40.00 288.70 L380.00 497.80 M40.00 293.92 L380.00 503.02 M40.00 299.13 L380.00 508.23 M40.00 304.35 L380.00 513.45 M40.00 309.57 L380.00 518.67 M40.00 314.78 L380.00 523.88 M40.00 320.00 L380.00 529.10 M40.00 325.22 L380.00 534.32 M40.00 330.44 L380.00 539.53 M40.00 335.65 L380.00 544.75 M40.00 340.87 L380.00 549.97 M40.00 346.09 L380.00 555.19" stroke="#00ff00" stroke-width="0.45" fill="none"/></g>
<rect x="184" y="89.5" width="61.8" height="15" fill="none" stroke="#00ff00" stroke-width="1"/>
<line x1="184" y1="97" x2="245.8" y2="97" stroke="#ddd" stroke-width="0.6"/><line x1="184" y1="97" x2="189" y2="97" stroke="#888" stroke-width="0.7"/>
<path d="M184 124.5H245.5M184 139.5H245.5" stroke="#0000ff" stroke-width="1.2" stroke-dasharray="9.5 9" fill="none"/>
<rect x="202" y="279" width="53.6" height="14.6" fill="#a0a0a0"/>
<path d="M61.10 37.50H365.10" stroke="#1c1c1c" stroke-width="1.25" fill="none"/>
<path d="M61.10 336.40H365.10" stroke="#333" stroke-width="1.15" fill="none"/>
<path d="M61.70 37.50V336.40" stroke="#222" stroke-width="1.2" fill="none"/>
<path d="M364.50 37.50V336.40" stroke="#4a4a4a" stroke-width="1.25" fill="none"/>
<path d="M61.70 38.10V314.50" stroke="#00ff00" stroke-opacity="0.3" stroke-width="1.2" fill="none"/>
<path d="M61.70 37.50h8.8 M61.70 47.46h4.4 M61.70 57.43h4.4 M61.70 67.39h4.4 M61.70 77.35h4.4 M61.70 87.32h8.8 M61.70 97.28h4.4 M61.70 107.24h4.4 M61.70 117.21h4.4 M61.70 127.17h4.4 M61.70 137.13h8.8 M61.70 147.10h4.4 M61.70 157.06h4.4 M61.70 167.02h4.4 M61.70 176.99h4.4 M61.70 186.95h8.8 M61.70 196.91h4.4 M61.70 206.88h4.4 M61.70 216.84h4.4 M61.70 226.80h4.4 M61.70 236.77h8.8 M61.70 246.73h4.4 M61.70 256.69h4.4 M61.70 266.66h4.4 M61.70 276.62h4.4 M61.70 286.58h8.8 M61.70 296.55h4.4 M61.70 306.51h4.4 M61.70 316.47h4.4 M61.70 326.44h4.4 M61.70 336.40h8.8" stroke="#111" stroke-width="1.1" fill="none"/>
<path d="M122.85 336.40v-5 M184.00 336.40v-5 M245.15 336.40v-5 M306.30 336.40v-5" stroke="#bbb" stroke-width="1.3" fill="none"/>
<path d="M80.11 336.40v-2.6 M90.88 336.40v-2.6 M98.52 336.40v-2.6 M104.44 336.40v-2.6 M109.28 336.40v-2.6 M113.38 336.40v-2.6 M116.92 336.40v-2.6 M120.05 336.40v-2.6 M141.26 336.40v-2.6 M152.03 336.40v-2.6 M159.67 336.40v-2.6 M165.59 336.40v-2.6 M170.43 336.40v-2.6 M174.53 336.40v-2.6 M178.07 336.40v-2.6 M181.20 336.40v-2.6 M202.41 336.40v-2.6 M213.18 336.40v-2.6 M220.82 336.40v-2.6 M226.74 336.40v-2.6 M231.58 336.40v-2.6 M235.68 336.40v-2.6 M239.22 336.40v-2.6 M242.35 336.40v-2.6 M263.56 336.40v-2.6 M274.33 336.40v-2.6 M281.97 336.40v-2.6 M287.89 336.40v-2.6 M292.73 336.40v-2.6 M296.83 336.40v-2.6 M300.37 336.40v-2.6 M303.50 336.40v-2.6 M324.71 336.40v-2.6 M335.48 336.40v-2.6 M343.12 336.40v-2.6 M349.04 336.40v-2.6 M353.88 336.40v-2.6 M357.98 336.40v-2.6 M361.52 336.40v-2.6" stroke="#8a8a8a" stroke-width="0.9" fill="none"/>
<g font-family="'Liberation Serif', serif" font-weight="bold" fill="#000" text-rendering="geometricPrecision">
<text x="139" y="23.3" font-size="15.05">N<tspan font-size="11" dy="4.5">f</tspan><tspan dy="-4.5">=4, </tspan><tspan font-weight="normal">μ</tspan><tspan dx="0.7">=2 GeV</tspan></text>
<text x="54.2" y="41.70" font-size="13.5" text-anchor="end">0.3</text>
<text x="54.2" y="91.52" font-size="13.5" text-anchor="end">0.2</text>
<text x="54.2" y="141.33" font-size="13.5" text-anchor="end">0.1</text>
<text x="54.2" y="191.15" font-size="13.5" text-anchor="end">0</text>
<text x="54.2" y="240.97" font-size="13.5" text-anchor="end">-0.1</text>
<text x="54.2" y="290.78" font-size="13.5" text-anchor="end">-0.2</text>
<text x="54.2" y="340.60" font-size="13.5" text-anchor="end">-0.3</text>
<text x="63.90" y="355.2" font-size="13.5" text-anchor="end">10</text>
<text x="68.10" y="346.3" font-size="10.8" >-5</text>
<text x="125.05" y="355.2" font-size="13.5" text-anchor="end">10</text>
<text x="129.25" y="346.3" font-size="10.8" >-4</text>
<text x="186.20" y="355.2" font-size="13.5" text-anchor="end">10</text>
<text x="190.40" y="346.3" font-size="10.8" >-3</text>
<text x="247.35" y="355.2" font-size="13.5" text-anchor="end">10</text>
<text x="251.55" y="346.3" font-size="10.8" >-2</text>
<text x="308.50" y="355.2" font-size="13.5" text-anchor="end">10</text>
<text x="312.70" y="346.3" font-size="10.8" >-1</text>
<text x="365.4" y="364.7" font-size="13.5" text-anchor="end">x</text>
<text transform="translate(24.3,37.8) rotate(-90)" font-size="13.5" text-anchor="end">I(x)</text>
<text x="256" y="66.8" font-size="13.5" fill="#ff0000">CT14</text>
<text x="256" y="101.8" font-size="13.5" fill="#00ff00">NN3.0</text>
<text x="256" y="136.6" font-size="13.5" fill="#0000ff">MMHT14</text>
<text x="266.7" y="291" font-size="13.5">ABMP15</text>
</g>
</svg></body></html>
